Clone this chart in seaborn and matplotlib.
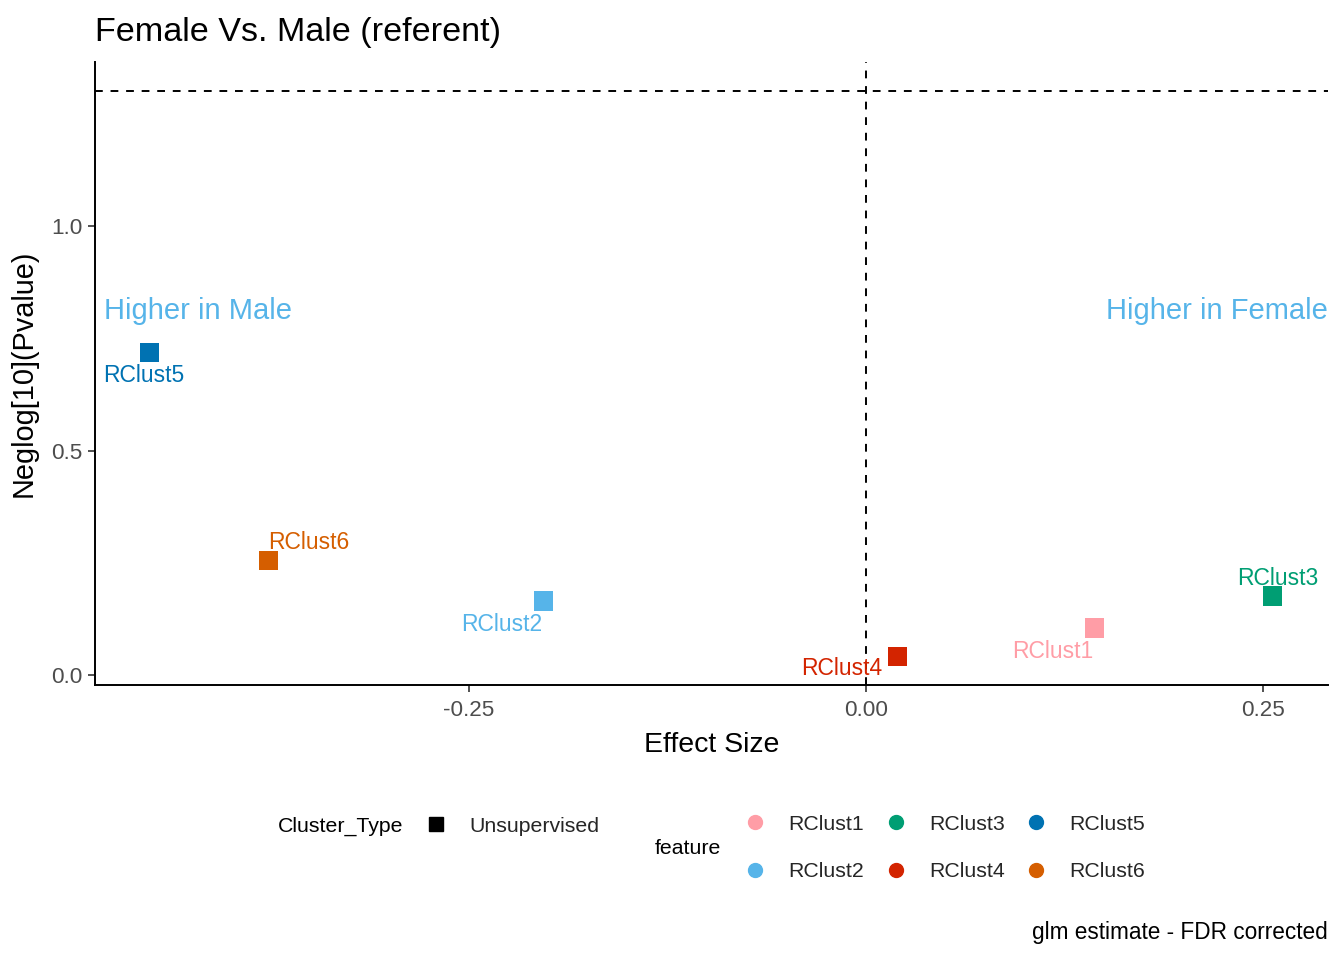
import matplotlib
matplotlib.use("Agg")
import matplotlib.pyplot as plt
from matplotlib.lines import Line2D
import seaborn as sns
import pandas as pd

features = ["RClust1", "RClust2", "RClust3", "RClust4", "RClust5", "RClust6"]
effect_size = [0.144, -0.203, 0.256, 0.020, -0.451, -0.376]
neglog_p = [0.105, 0.165, 0.176, 0.042, 0.719, 0.256]
cluster_type = ["Unsupervised"] * 6
colors = ["#FF9DA6", "#56B4E9", "#009E73", "#D32400", "#0072B2", "#D55E00"]
sig_line = 1.301
x_ticks = [-0.25, 0.0, 0.25]
x_ticklabels = ["-0.25", "0.00", "0.25"]
y_ticks = [0.0, 0.5, 1.0]
y_ticklabels = ["0.0", "0.5", "1.0"]

df = pd.DataFrame({"feature": features, "effect": effect_size,
                   "neglogp": neglog_p, "Cluster_Type": cluster_type})
palette = dict(zip(features, colors))

sns.set_theme(style="white")
plt.rcParams["font.family"] = ["Liberation Sans", "DejaVu Sans"]

W, H = 1344, 960
fig = plt.figure(figsize=(W / 100, H / 100), dpi=100)
ax = fig.add_axes([95 / W, 1 - 685 / H, (1328 - 95) / W, (685 - 62) / H])

sns.scatterplot(data=df, x="effect", y="neglogp", hue="feature", palette=palette,
                hue_order=features, marker="s", s=190, linewidth=0, legend=False, ax=ax)

ax.axvline(0, color="black", linestyle=(0, (4, 4)), linewidth=1.4)
ax.axhline(sig_line, color="black", linestyle=(0, (4, 4)), linewidth=1.4)

# point labels (repel-like offsets in points)
offsets = {"RClust1": (-30, -17), "RClust2": (-30, -17), "RClust3": (4, 13),
           "RClust4": (-40, -9), "RClust5": (-4, -17), "RClust6": (29, 13)}
for f, xv, yv in zip(features, effect_size, neglog_p):
    dx, dy = offsets[f]
    ax.annotate(f, (xv, yv), xytext=(dx, dy), textcoords="offset points",
                ha="center", va="center", fontsize=16.5, color=palette[f])

ax.set_xlim(-0.4855, 0.291)
ax.set_ylim(-0.022, 1.365)
ax.set_xticks(x_ticks)
ax.set_xticklabels(x_ticklabels)
ax.set_yticks(y_ticks)
ax.set_yticklabels(y_ticklabels)
ax.tick_params(axis="both", which="both", direction="out", length=5, width=1.2,
               color="#333333", labelcolor="#4D4D4D", labelsize=16.2, pad=4,
               bottom=True, left=True)
ax.tick_params(axis="x", pad=6)
for side in ["top", "right"]:
    ax.spines[side].set_visible(False)
for side in ["left", "bottom"]:
    ax.spines[side].set_color("black")
    ax.spines[side].set_linewidth(1.4)

ax.set_xlabel("Effect Size", fontsize=20.5, color="black", labelpad=8)
ax.set_ylabel("Neglog[10](Pvalue)", fontsize=20.8, color="black", labelpad=10)

ax.text(-0.48, 0.81, "Higher in Male", ha="left", va="center",
        fontsize=21, color="#56B4E9")
ax.text(0.291, 0.81, "Higher in Female", ha="right", va="center",
        fontsize=21, color="#56B4E9")

fig.text(95 / W, 1 - 32 / H, "Female Vs. Male (referent)", ha="left", va="center",
         fontsize=24.6, color="black")
fig.text(1328 / W, 1 - 933 / H, "glm estimate - FDR corrected", ha="right",
         va="center", fontsize=16.3, color="black")

# legends
fs_leg = 15.3
fig.text(278 / W, 1 - 826 / H, "Cluster_Type", ha="left", va="center",
         fontsize=fs_leg, color="black")
h1 = [Line2D([], [], marker="s", color="black", linestyle="none", markersize=9.5)]
leg1 = fig.legend(h1, ["Unsupervised"], loc="center left",
                  bbox_to_anchor=(425.6 / W, 1 - 826 / H), frameon=False,
                  fontsize=fs_leg, handlelength=1.0, handletextpad=1.07,
                  borderpad=0, borderaxespad=0)

fig.text(655 / W, 1 - 849 / H, "feature", ha="left", va="center",
         fontsize=fs_leg, color="black")
h2 = [Line2D([], [], marker="o", color=c, linestyle="none", markersize=10)
      for c in colors]
leg2 = fig.legend(h2, features, loc="center left", ncol=3,
                  bbox_to_anchor=(744.6 / W, 1 - 848 / H), frameon=False,
                  fontsize=fs_leg, handlelength=1.0, handletextpad=1.07,
                  columnspacing=0.98, labelspacing=1.36,
                  borderpad=0, borderaxespad=0)

fig.savefig("out.png", dpi=100)
